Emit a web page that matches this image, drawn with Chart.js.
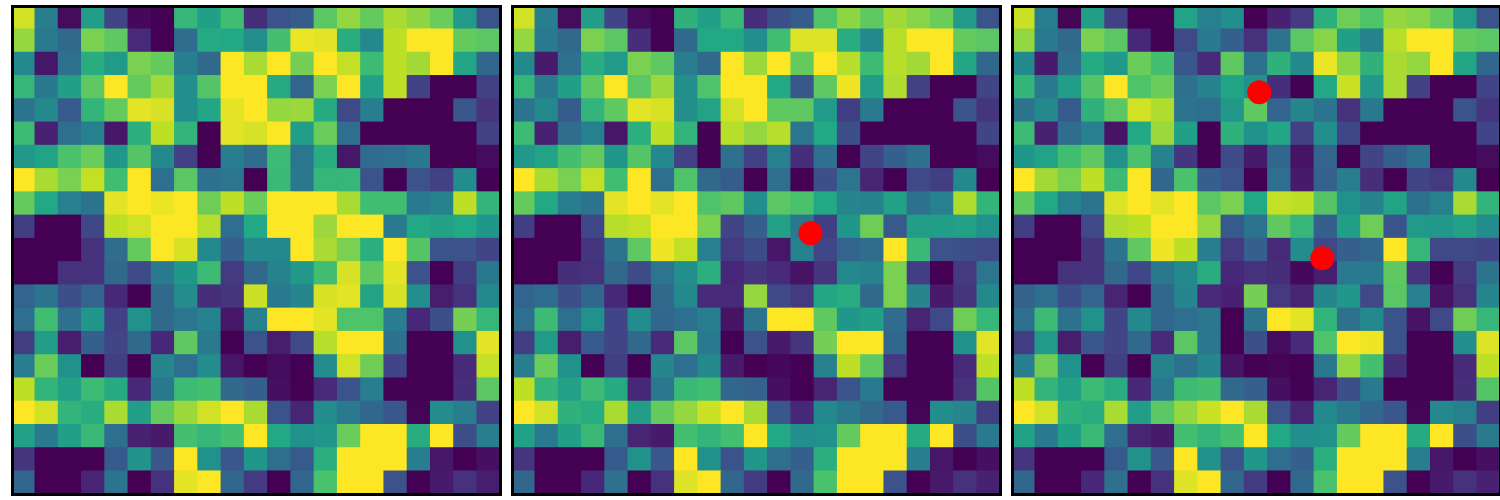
<!DOCTYPE html>
<html>
<head>
<meta charset="utf-8">
<script src="https://cdn.jsdelivr.net/npm/chart.js@4"></script>
<style>
  html, body { margin: 0; background: #fff; }
  body { width: 1500px; height: 500px; overflow: hidden; position: relative; }
  .panel { position: absolute; top: 8px; width: 485px; height: 485px; outline: 3px solid #000; }
</style>
</head>
<body>
<div class="panel" style="left:14px"><canvas id="c1"></canvas></div>
<div class="panel" style="left:514px"><canvas id="c2"></canvas></div>
<div class="panel" style="left:1014px"><canvas id="c3"></canvas></div>
<script>
const grid1 = [
  [.93,.42,.03,.55,.2,.02,0,.66,.56,.69,.13,.25,.29,.74,.84,.76,.87,.83,.77,.54,.26],
  [.84,.41,.34,.8,.75,.12,0,.35,.61,.6,.49,.7,.97,.96,.62,.47,.9,1,1,.76,.74],
  [.47,.06,.37,.62,.54,.8,.76,.42,.34,1,.87,1,.79,1,.91,.68,.9,.86,1,.59,.33],
  [.66,.4,.56,.75,1,.76,.86,.49,.73,1,1,.61,.32,.8,1,.57,.9,.19,0,0,.19],
  [.38,.47,.28,.65,.76,.96,.94,.49,.59,.96,1,.84,.85,.61,.22,.42,0,0,0,.27,.15],
  [.68,.09,.36,.43,.06,.63,.9,.65,0,.96,.94,1,.55,.77,.36,0,0,0,0,0,.19],
  [.53,.58,.71,.77,.52,.73,.47,.19,0,.42,.35,.68,.39,.62,.06,.35,.36,.4,0,0,.03],
  [1,.87,.8,.91,.69,1,.36,.74,.37,.39,0,.67,.4,.66,.66,.26,0,.25,.19,.48,0],
  [.76,.6,.43,.38,.96,1,.97,1,.78,.9,.77,1,1,1,.87,.69,.69,.41,.44,.9,.65],
  [.18,0,0,.21,.9,.93,1,1,.89,.36,.6,1,1,.85,1,1,.41,.6,.57,.6,.52],
  [0,0,0,.14,.35,.76,1,.94,.47,.3,.47,.47,1,.87,.8,.63,1,.73,.26,.25,.2],
  [0,0,.14,.14,.34,.23,.41,.52,.68,.17,.34,.44,.53,.69,.94,.75,.96,.25,0,.18,.4],
  [.32,.38,.24,.32,.11,0,.34,.48,.13,.15,.92,.41,.45,.94,.96,.58,.94,.49,.08,.14,.47],
  [.36,.69,.37,.52,.19,.5,.34,.39,.44,.06,.43,1,1,.96,.72,.72,.42,.11,.24,.79,.66],
  [.18,.55,.08,.3,.2,.34,.11,.75,.41,0,.25,.08,.22,.89,1,1,.37,0,0,.5,.96],
  [.42,.77,.5,0,.18,0,.46,.36,.48,.06,0,.03,0,.48,.93,.78,.2,0,0,.12,.91],
  [.9,.65,.57,.68,.61,.11,.4,.68,.7,.34,.3,.04,0,.12,.26,.42,0,0,0,.13,.74],
  [1,.93,.65,.62,.87,.55,.76,.85,.93,1,.87,.26,.1,.48,.41,.33,.27,.01,.48,.42,.19],
  [.57,.41,.56,.67,.36,.09,.07,.7,.66,.7,1,.6,.5,.52,.77,1,1,.62,1,.24,.42],
  [.16,0,0,0,.28,.51,.27,1,.5,.27,.52,.36,.28,.63,1,1,1,.42,.06,0,.04],
  [.33,0,0,.1,.38,0,.14,.96,1,.33,.17,0,.33,.71,1,1,.25,0,.07,.14,.08]
];
const grid2 = [
  [.93,.42,.03,.55,.2,.03,0,.64,.56,.67,.13,.24,.29,.72,.83,.75,.86,.82,.77,.54,.26],
  [.84,.41,.34,.8,.74,.13,0,.34,.6,.6,.49,.69,.95,.95,.62,.47,.89,1,1,.76,.74],
  [.47,.07,.37,.62,.54,.8,.75,.42,.34,1,.85,1,.76,1,.89,.68,.89,.86,1,.59,.33],
  [.66,.41,.56,.75,1,.74,.85,.49,.72,1,1,.6,.27,.75,.98,.55,.88,.19,0,0,.2],
  [.38,.47,.29,.65,.75,.96,.94,.49,.58,.93,1,.75,.75,.54,.18,.41,0,0,0,.26,.15],
  [.68,.09,.35,.43,.06,.63,.9,.65,0,.89,.84,.89,.39,.6,.24,0,0,0,0,0,.2],
  [.53,.58,.7,.76,.52,.73,.47,.19,0,.37,.19,.43,.13,.37,0,.2,.3,.37,0,0,.03],
  [1,.87,.8,.91,.69,1,.36,.72,.34,.29,0,.36,0,.24,.39,.1,0,.22,.18,.47,0],
  [.76,.6,.42,.38,.96,1,.96,1,.72,.75,.49,.74,.71,.6,.45,.44,.57,.37,.43,.88,.65],
  [.18,0,0,.21,.89,.91,1,1,.8,.2,.3,.57,.4,.18,.52,.78,.28,.55,.55,.57,.5],
  [0,0,0,.15,.38,.75,.98,.91,.43,.17,.23,.06,.43,.21,.32,.35,1,.67,.25,.24,.22],
  [0,0,.13,.14,.34,.23,.39,.49,.63,.11,.15,.12,.05,.15,.47,.44,.8,.18,0,.17,.39],
  [.32,.35,.24,.33,.11,0,.34,.47,.12,.12,.84,.22,.17,.59,.62,.34,.8,.45,.07,.15,.47],
  [.36,.68,.36,.5,.2,.48,.33,.36,.42,.05,.38,1,1,.75,.52,.56,.35,.1,.22,.78,.66],
  [.18,.54,.08,.28,.2,.34,.12,.74,.41,0,.25,.07,.15,.79,1,1,.33,0,0,.5,.96],
  [.42,.77,.5,0,.18,0,.45,.36,.47,.07,0,.02,0,.43,.9,.75,.17,0,0,.12,.9],
  [.9,.65,.57,.68,.61,.11,.4,.67,.69,.33,.31,.04,0,.1,.26,.41,0,0,0,.14,.73],
  [1,.93,.64,.62,.87,.55,.76,.84,.92,1,.87,.27,.11,.47,.4,.34,.28,.01,.48,.45,.18],
  [.57,.41,.56,.67,.36,.1,.07,.7,.65,.7,1,.6,.49,.5,.76,1,1,.61,1,.24,.41],
  [.15,0,0,0,.28,.5,.27,1,.5,.26,.52,.36,.3,.63,1,1,1,.42,.06,0,.04],
  [.33,0,0,.11,.37,0,.14,.95,1,.33,.17,0,.34,.71,1,1,.25,0,.07,.14,.09]
];
const grid3 = [
  [.92,.42,.01,.55,.19,0,0,.58,.43,.49,0,.09,.17,.63,.78,.72,.84,.82,.76,.54,.26],
  [.84,.41,.34,.8,.74,.11,0,.22,.41,.3,.14,.38,.74,.82,.56,.44,.89,1,1,.76,.74],
  [.47,.07,.37,.61,.53,.77,.7,.27,.12,.75,.37,.64,.47,.97,.83,.64,.87,.84,1,.59,.33],
  [.65,.41,.55,.73,1,.72,.77,.37,.44,.58,.5,.13,0,.6,.92,.53,.87,.19,0,0,.2],
  [.38,.47,.28,.64,.74,.93,.88,.38,.36,.53,.75,.32,.45,.38,.14,.4,0,0,0,.26,.15],
  [.68,.09,.35,.43,.05,.6,.85,.56,0,.64,.5,.59,.19,.49,.21,0,0,0,0,0,.2],
  [.52,.58,.69,.75,.5,.71,.44,.16,0,.23,.07,.33,.05,.32,0,.2,.3,.37,0,0,.03],
  [1,.86,.8,.9,.68,1,.33,.71,.3,.26,0,.36,.07,.31,.42,.13,0,.2,.17,.47,0],
  [.75,.6,.43,.38,.95,1,.96,1,.74,.8,.6,.91,.9,.73,.5,.44,.58,.37,.43,.87,.65],
  [.18,0,0,.22,.88,.9,1,1,.84,.28,.38,.75,.66,.3,.56,.78,.26,.54,.53,.57,.48],
  [0,0,0,.15,.38,.75,.98,.9,.42,.17,.3,.12,.48,.22,.3,.33,1,.66,.22,.22,.2],
  [0,0,.14,.15,.34,.21,.4,.47,.62,.11,.14,.13,.02,.08,.41,.41,.75,.15,0,.17,.38],
  [.31,.36,.24,.32,.1,0,.33,.46,.12,.09,.79,.17,.1,.46,.52,.22,.74,.43,.05,.14,.46],
  [.36,.68,.37,.5,.2,.47,.33,.36,.4,0,.38,1,.96,.65,.37,.47,.26,.05,.22,.78,.66],
  [.18,.54,.08,.27,.2,.34,.12,.74,.4,0,.24,.03,.12,.72,1,.98,.26,0,0,.49,.95],
  [.42,.78,.5,0,.18,0,.44,.37,.46,.05,0,.01,0,.4,.84,.7,.13,0,0,.12,.9],
  [.9,.65,.57,.68,.62,.11,.4,.68,.7,.34,.3,.04,0,.1,.24,.41,0,0,0,.13,.73],
  [1,.93,.64,.62,.87,.55,.74,.84,.92,1,.87,.25,.1,.47,.4,.33,.27,.01,.47,.43,.18],
  [.57,.41,.56,.67,.36,.1,.07,.7,.65,.7,1,.6,.49,.5,.76,1,1,.61,1,.24,.41],
  [.15,0,0,0,.28,.5,.27,1,.5,.26,.52,.36,.3,.63,1,1,1,.42,.06,0,.04],
  [.33,0,0,.11,.37,0,.14,.95,1,.33,.17,0,.34,.71,1,1,.25,0,.07,.14,.09]
];
const points1 = [];
const points2 = [{x: 12.34, y: 9.28}];
const points3 = [{x: 10.14, y: 3.22}, {x: 12.85, y: 10.36}];

// viridis stops, every 0.1
const viridis = [[68,1,84],[72,36,117],[65,68,135],[53,95,141],[42,120,142],[33,145,140],[34,168,132],[68,191,112],[122,209,81],[189,223,38],[253,231,37]];

function colorOf(v) {
  const t = Math.min(Math.max(v, 0), 1) * 10;
  const i = Math.min(Math.floor(t), 9);
  const f = t - i;
  const c = viridis[i].map((a, k) => Math.round(a + (viridis[i + 1][k] - a) * f));
  return `rgb(${c[0]},${c[1]},${c[2]})`;
}

function drawPanel(id, grid, points) {
  const cells = [];
  const colors = [];
  grid.forEach((row, r) => {
    row.forEach((v, c) => {
      cells.push({x: c, y: [r - 0.5, r + 0.5]});
      colors.push(colorOf(v));
    });
  });
  new Chart(document.getElementById(id), {
    data: {
      datasets: [
        { type: 'scatter', data: points, pointRadius: 12, pointHoverRadius: 12, backgroundColor: '#ff0000', borderWidth: 0, order: 0 },
        { type: 'bar', data: cells, backgroundColor: colors, borderWidth: 0, inflateAmount: 0.5, barPercentage: 1, categoryPercentage: 1, order: 1 }
      ]
    },
    options: {
      responsive: false,
      animation: false,
      events: [],
      layout: { padding: 0, autoPadding: false },
      plugins: { legend: { display: false }, tooltip: { enabled: false } },
      scales: {
        x: { type: 'linear', offset: false, min: -0.403, max: 20.446, display: false },
        y: { type: 'linear', reverse: true, min: -0.403, max: 20.446, display: false }
      }
    }
  });
}

document.querySelectorAll('canvas').forEach(c => { c.width = 485; c.height = 485; });
drawPanel('c1', grid1, points1);
drawPanel('c2', grid2, points2);
drawPanel('c3', grid3, points3);
</script>
</body>
</html>
